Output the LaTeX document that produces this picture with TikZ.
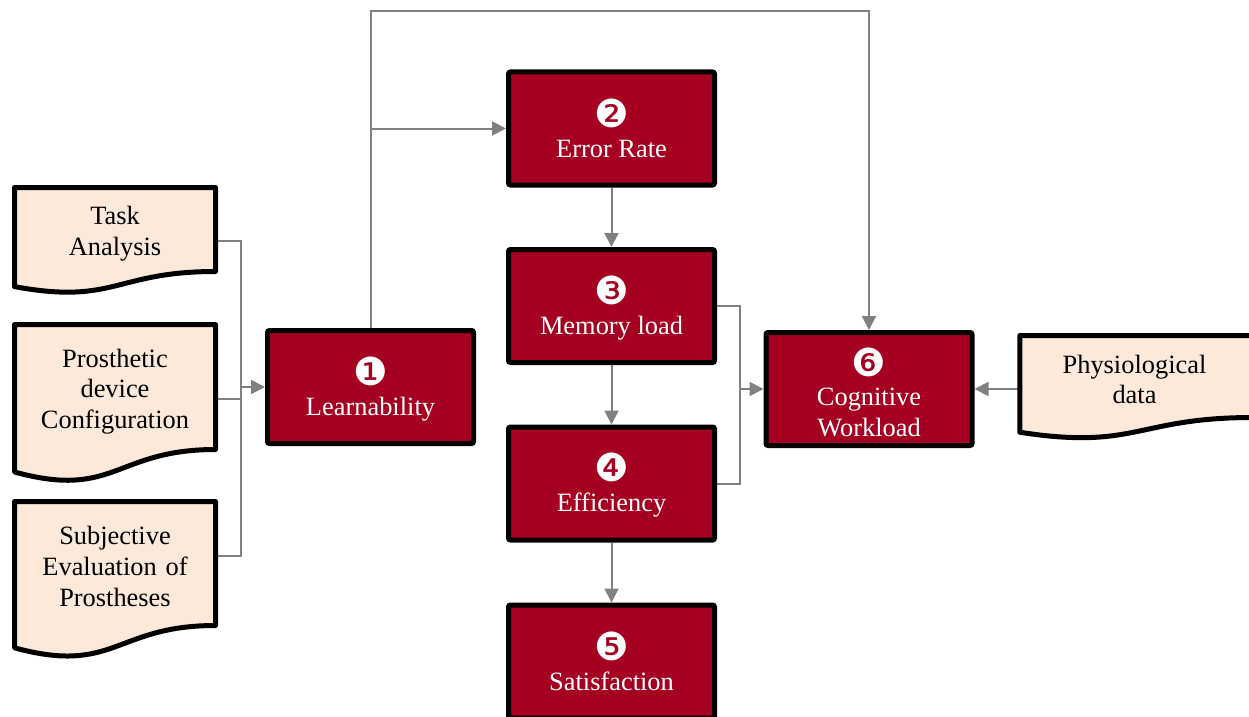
\documentclass[tikz,border=0pt]{standalone}
\usepackage{fontspec}
\setmainfont{Liberation Serif}
\newfontfamily\dingfont{DejaVu Sans}
\usetikzlibrary{arrows.meta,calc}

\definecolor{boxred}{RGB}{165,0,33}
\definecolor{docfill}{RGB}{253,233,217}
\definecolor{linkgray}{RGB}{128,128,128}

\pgfdeclarelayer{background}
\pgfdeclarelayer{outline}
\pgfsetlayers{background,outline,main}

\newcommand\bodyfont{\rmfamily\fontsize{19.8}{23}\selectfont}
\newcommand\stepno[1]{{\dingfont\fontsize{29}{23}\selectfont #1}}

% flowchart "document" outline around a text node: flat top, wavy bottom
\newcommand\docoutline[1]{%
  \draw[docline] let \p1=(#1.north west), \p2=(#1.south east) in
    (\x1,\y1) -- (\x2,\y1) -- (\x2,\y2)
    .. controls ({0.5*(\x1+\x2)},\y2) and ({0.5*(\x1+\x2)},{\y1+1.40*(\y2-\y1)}) ..
    (\x1,{\y1+1.18*(\y2-\y1)}) -- cycle;}

\begin{document}
\begin{tikzpicture}[x=0.75pt,y=-0.75pt,
  stage/.style={draw=black, fill=boxred, line width=3.75pt, rounded corners=1.5pt,
    minimum width=154.5pt, minimum height=84.75pt, inner sep=0pt},
  stagetext/.style={inner sep=0pt, align=center, text=white, font=\bodyfont},
  docnode/.style={inner sep=0pt, outer sep=0pt, align=center,
    text width=150.75pt, font=\bodyfont},
  docline/.style={draw=black, fill=docfill, line width=3.75pt, line join=round},
  link/.style={draw=linkgray, line width=1.5pt},
  feed/.style={link, -{Triangle[length=10.5pt,width=10.5pt]}},
]
\useasboundingbox (0,0) rectangle (1249,717);

% measures
\node[stage] (learn) at (370.5,387)   {};
\node[stage] (err)   at (611.5,128.5) {};
\node[stage] (mem)   at (611.5,306)   {};
\node[stage] (eff)   at (611.5,483.5) {};
\node[stage] (sat)   at (611.5,661.5) {};
\node[stage] (cog)   at (869,389)     {};

\node[stagetext] (learn-t) at ($(learn)+(0,2)$) {\stepno{❶}\\[-1pt]Learnability};
\node[stagetext] (err-t)   at ($(err)+(0,0)$)   {\stepno{❷}\\[-1pt]Error Rate};
\node[stagetext] (mem-t)   at ($(mem)+(0,2)$)   {\stepno{❸}\\[-1pt]Memory load};
\node[stagetext] (eff-t)   at ($(eff)+(0,1.5)$) {\stepno{❹}\\[-1pt]Efficiency};
\node[stagetext] (sat-t)   at ($(sat)+(0,0)$)   {\stepno{❺}\\[-1pt]Satisfaction};
\node[stagetext] (cog-t)   at ($(cog)+(0,3)$)   {\stepno{❻}\\[-1pt]Cognitive\\Workload};

% data sources
\node[docnode, minimum height=63pt]    (task)  at (115,229.5) {};
\node[docnode, minimum height=93.75pt] (prost) at (115,387)   {};
\node[docnode, minimum height=93pt]    (subj)  at (115,563.5) {};
\node[docnode, minimum height=61.5pt, text width=175pt] (phys) at (1136.5,376.5) {};

\node[docnode] (task-t)  at ($(task)+(0,4)$)    {Task\\Analysis};
\node[docnode] (prost-t) at ($(prost)+(0,4.5)$) {Prosthetic\\device\\Configuration};
\node[docnode] (subj-t)  at ($(subj)+(0,3)$)    {Subjective\\Evaluation of\\Prostheses};
\node[docnode, text width=173.6pt] (phys-t) at ($(phys)+(-2,3)$) {Physiological\\data};

\begin{pgfonlayer}{outline}
  \docoutline{task}
  \docoutline{prost}
  \docoutline{subj}
  \docoutline{phys}
\end{pgfonlayer}

\begin{pgfonlayer}{background}
  % sources feeding learnability
  \draw[link] ($(task.east)+(0,11.5)$) -- ++(25.5,0) |- ($(subj.east)+(0,-7.5)$);
  \draw[link] ($(prost.east)+(0,12)$) -- ++(25.5,0);
  \draw[feed] ($(learn.west)+(-24,0)$) -- (learn.west);
  % learnability to error rate and cognitive workload
  \draw[feed] (learn.north) -- ++(0,-317) -| (cog.north);
  \draw[feed] (learn.north |- err.west) -- (err.west);
  % central chain
  \draw[feed] (err.south) -- (mem.north);
  \draw[feed] (mem.south) -- (eff.north);
  \draw[feed] (eff.south) -- (sat.north);
  % memory load and efficiency into cognitive workload
  \draw[link] (mem.east) -- ++(23,0) |- (eff.east);
  \draw[feed] ($(cog.west)+(-23,0)$) -- (cog.west);
  % physiological data
  \draw[feed] (cog.east -| phys.west) -- (cog.east);
\end{pgfonlayer}
\end{tikzpicture}
\end{document}
